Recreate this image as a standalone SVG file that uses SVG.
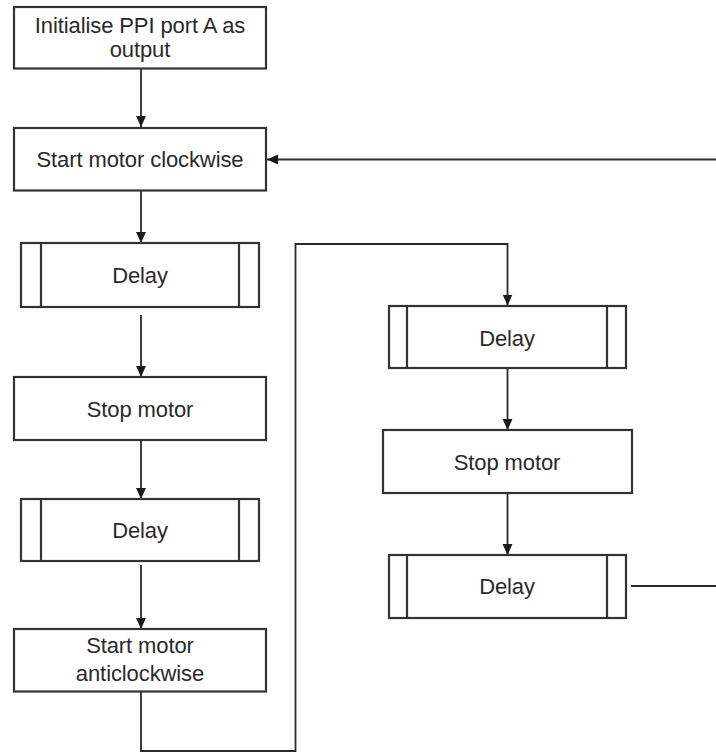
<svg xmlns="http://www.w3.org/2000/svg" width="716" height="754" viewBox="0 0 716 754">
<style>
.box{fill:#fff;stroke:#333;stroke-width:2.2}
.sub{fill:none;stroke:#333;stroke-width:2.2}
.t{font-family:"Liberation Sans",Arial,sans-serif;font-size:22px;letter-spacing:-0.1px;fill:#2a2a2a;text-anchor:middle}
.c{fill:none;stroke:#2a2a2a;stroke-width:1.8}
</style>
<defs>
<marker id="ah" viewBox="0 0 10 10" refX="10" refY="5" markerWidth="11" markerHeight="11" markerUnits="userSpaceOnUse" orient="auto">
<path d="M0,0.5 L10,5 L0,9.5 Z" fill="#1a1a1a"/>
</marker>
</defs>
<rect width="716" height="754" fill="#fff"/>
<g id="connectors">
<line class="c" x1="141" y1="69" x2="141" y2="127" marker-end="url(#ah)"/>
<line class="c" x1="716" y1="159.5" x2="267" y2="159.5" marker-end="url(#ah)"/>
<line class="c" x1="141" y1="191" x2="141" y2="243" marker-end="url(#ah)"/>
<line class="c" x1="141" y1="315" x2="141" y2="377" marker-end="url(#ah)"/>
<line class="c" x1="141" y1="440" x2="141" y2="499" marker-end="url(#ah)"/>
<line class="c" x1="141" y1="565" x2="141" y2="629" marker-end="url(#ah)"/>
<polyline class="c" points="141,692 141,751 295.5,751 295.5,244 507.5,244 507.5,305.5" marker-end="url(#ah)"/>
<line class="c" x1="507.5" y1="368" x2="507.5" y2="430" marker-end="url(#ah)"/>
<line class="c" x1="507.5" y1="493" x2="507.5" y2="555" marker-end="url(#ah)"/>
<line class="c" x1="631" y1="586" x2="716" y2="586"/>
</g>
<g id="init">
<rect class="box" x="14" y="7" width="252" height="61.5"/>
<text class="t" x="140" y="33">Initialise PPI port A as</text>
<text class="t" x="140" y="57">output</text>
</g>
<g id="start-cw">
<rect class="box" x="14" y="128" width="252" height="62.5"/>
<text class="t" x="140" y="167">Start motor clockwise</text>
</g>
<g id="delay1">
<rect class="box" x="21" y="243" width="238" height="64"/>
<line class="sub" x1="41" y1="243" x2="41" y2="307"/>
<line class="sub" x1="239" y1="243" x2="239" y2="307"/>
<text class="t" x="140" y="283">Delay</text>
</g>
<g id="stop1">
<rect class="box" x="14" y="377" width="252" height="63"/>
<text class="t" x="140" y="417">Stop motor</text>
</g>
<g id="delay2">
<rect class="box" x="21" y="499" width="238" height="62"/>
<line class="sub" x1="41" y1="499" x2="41" y2="561"/>
<line class="sub" x1="239" y1="499" x2="239" y2="561"/>
<text class="t" x="140" y="538">Delay</text>
</g>
<g id="start-acw">
<rect class="box" x="14" y="629" width="252" height="62.5"/>
<text class="t" x="140" y="653">Start motor</text>
<text class="t" x="140" y="681">anticlockwise</text>
</g>
<g id="delay3">
<rect class="box" x="389" y="306" width="237" height="62"/>
<line class="sub" x1="407" y1="306" x2="407" y2="368"/>
<line class="sub" x1="607" y1="306" x2="607" y2="368"/>
<text class="t" x="507" y="346">Delay</text>
</g>
<g id="stop2">
<rect class="box" x="383" y="430" width="249" height="63"/>
<text class="t" x="507" y="470">Stop motor</text>
</g>
<g id="delay4">
<rect class="box" x="389" y="555" width="237" height="63"/>
<line class="sub" x1="407" y1="555" x2="407" y2="618"/>
<line class="sub" x1="607" y1="555" x2="607" y2="618"/>
<text class="t" x="507" y="594">Delay</text>
</g>
</svg>
